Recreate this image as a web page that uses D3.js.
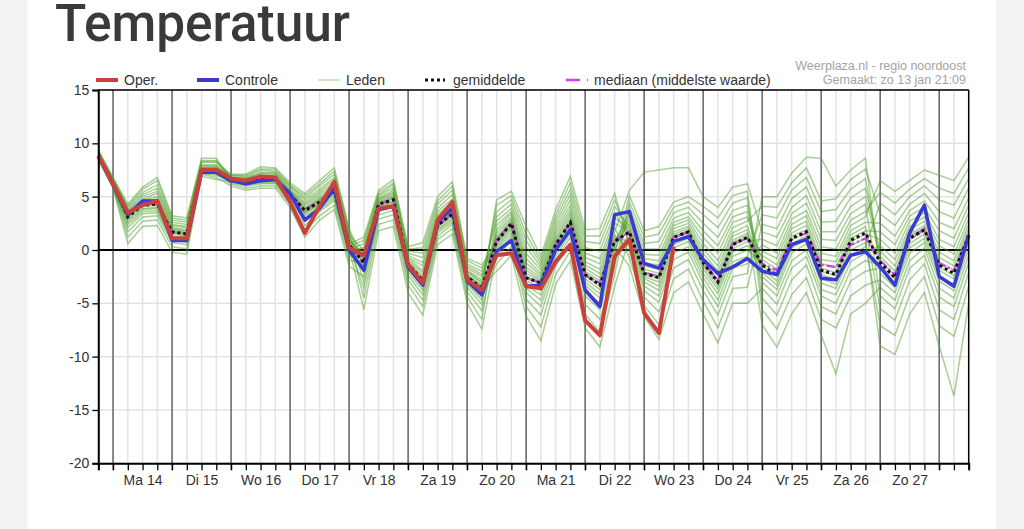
<!DOCTYPE html>
<html>
<head>
<meta charset="utf-8">
<script src="https://cdn.jsdelivr.net/npm/d3@7/dist/d3.min.js"></script>
<style>
  body { margin: 0; background: #f3f3f3; }
  svg { display: block; }
  text { font-family: "Liberation Sans", Arial, sans-serif; }
</style>
</head>
<body>
<svg id="chart" width="1024" height="529"></svg>
<script>
// labels
var dayLabels = ["Ma 14", "Di 15", "Wo 16", "Do 17", "Vr 18", "Za 19", "Zo 20",
  "Ma 21", "Di 22", "Wo 23", "Do 24", "Vr 25", "Za 26", "Zo 27"];
var yTicks = [15, 10, 5, 0, -5, -10, -15, -20];

// 6-hourly values, first step zo 13 jan 18:00
var oper = [8.8, 6.2, 3.5, 4.2, 4.6, 1.1, 1.1, 7.5, 7.5, 6.7, 6.5, 6.9, 6.8, 4.5, 1.6, 4.1, 6.4, 0.2, -0.5, 3.9,
  4.1, -1.4, -3.1, 2.8, 4.5, -2.8, -3.75, -0.5, -0.3, -3.4, -3.6, -1.1, 0.5, -6.6, -8.0, -0.6, 1.0, -5.9, -7.8, 0.3];

var controle = [8.8, 6.1, 3.3, 4.6, 4.6, 0.9, 0.9, 7.3, 7.3, 6.5, 6.2, 6.5, 6.6, 5.3, 2.8, 3.9, 5.8, 0.0, -1.9, 3.8,
  4.1, -1.6, -3.3, 2.65, 3.9, -2.9, -4.2, -0.15, 0.9, -3.4, -3.3, 0.0, 1.9, -3.75, -5.3, 3.3, 3.6, -1.25, -1.7, 0.8,
  1.25, -0.9, -2.2, -1.6, -0.8, -2.0, -2.3, 0.5, 1.0, -2.65, -2.8, -0.5, -0.15, -1.6, -3.3, 1.6, 4.2, -2.5, -3.4, 1.4];

var gemiddelde = [8.8, 6.2, 3.1, 4.2, 4.3, 1.7, 1.5, 7.5, 7.5, 6.6, 6.4, 6.6, 6.7, 5.2, 3.7, 4.5, 5.5, 0.5, -1.2, 4.3,
  4.7, -1.3, -2.9, 2.3, 3.4, -2.5, -3.6, 0.8, 2.5, -2.6, -3.1, 0.5, 2.6, -2.3, -3.3, 0.8, 1.7, -2.2, -2.6, 1.2,
  1.7, -1.2, -3.0, 0.5, 1.2, -1.4, -2.4, 1.1, 1.7, -1.9, -2.3, 0.9, 1.6, -1.2, -2.6, 1.1, 1.9, -1.4, -2.2, 1.4];

var mediaan = [8.8, 6.2, 3.2, 4.3, 4.4, 1.7, 1.5, 7.5, 7.5, 6.6, 6.4, 6.7, 6.7, 5.2, 3.8, 4.5, 5.6, 0.5, -1.2, 4.3,
  4.8, -1.3, -2.9, 2.3, 3.4, -2.5, -3.6, 0.9, 2.6, -2.6, -3.1, 0.5, 2.6, -2.4, -3.1, 0.8, 1.7, -2.1, -2.5, 1.2,
  1.7, -1.1, -2.9, 0.6, 1.1, -1.3, -1.9, 1.0, 1.6, -1.4, -1.6, 0.5, 1.1, -1.0, -2.3, 1.0, 2.0, -1.25, -1.9, 1.3];

// ensemble members: one row per time step, one column per member
var leden = [
  [8.5, 8.6, 8.6, 8.7, 8.7, 8.7, 8.8, 8.8, 8.8, 8.8, 8.8, 8.9, 8.9, 9.0, 9.0, 9.1, 9.2, 9.2, 9.3, 9.4],
  [5.8, 5.9, 6.0, 6.0, 6.1, 6.1, 6.1, 6.2, 6.2, 6.2, 6.2, 6.3, 6.3, 6.4, 6.4, 6.5, 6.6, 6.6, 6.7, 6.8],
  [0.6, 1.2, 1.7, 2.1, 2.4, 2.6, 2.8, 2.9, 3.1, 3.1, 3.2, 3.3, 3.4, 3.4, 3.6, 3.7, 3.8, 4.0, 4.1, 4.3],
  [2.2, 2.7, 3.1, 3.4, 3.6, 3.8, 3.9, 4.1, 4.2, 4.3, 4.3, 4.4, 4.6, 4.7, 4.8, 5.0, 5.2, 5.4, 5.7, 5.9],
  [2.3, 2.8, 3.2, 3.5, 3.7, 3.9, 4.0, 4.2, 4.3, 4.4, 4.5, 4.7, 4.8, 5.0, 5.3, 5.5, 5.8, 6.1, 6.5, 6.8],
  [-0.2, 0.3, 0.7, 0.9, 1.1, 1.3, 1.5, 1.6, 1.7, 1.7, 1.8, 1.9, 2.0, 2.1, 2.3, 2.4, 2.6, 2.8, 3.0, 3.2],
  [-0.4, 0.1, 0.5, 0.7, 0.9, 1.1, 1.3, 1.4, 1.5, 1.5, 1.6, 1.7, 1.8, 1.9, 2.1, 2.2, 2.4, 2.6, 2.8, 3.0],
  [6.9, 7.1, 7.2, 7.3, 7.3, 7.4, 7.4, 7.5, 7.5, 7.5, 7.6, 7.7, 7.7, 7.8, 7.9, 8.0, 8.2, 8.3, 8.4, 8.6],
  [6.6, 6.8, 7.0, 7.1, 7.2, 7.3, 7.4, 7.4, 7.5, 7.5, 7.6, 7.7, 7.7, 7.8, 7.9, 8.0, 8.2, 8.3, 8.4, 8.6],
  [6.4, 6.0, 6.5, 6.2, 6.6, 6.3, 6.7, 6.4, 6.7, 6.6, 6.8, 6.6, 7.0, 6.6, 7.0, 6.7, 7.1, 6.8, 6.9, 6.5],
  [6.1, 5.6, 6.3, 5.8, 6.4, 6.0, 6.5, 6.2, 6.6, 6.3, 6.7, 6.4, 6.9, 6.5, 7.0, 6.5, 7.1, 6.7, 6.8, 6.2],
  [6.3, 5.8, 6.5, 6.0, 6.6, 6.2, 6.8, 6.4, 6.9, 6.5, 7.2, 6.6, 7.5, 6.7, 7.6, 6.9, 7.8, 7.1, 7.3, 6.4],
  [6.3, 5.8, 6.6, 6.0, 6.7, 6.2, 6.8, 6.4, 7.0, 6.6, 7.2, 6.7, 7.4, 6.8, 7.6, 6.9, 7.7, 7.1, 7.3, 6.5],
  [4.7, 4.0, 5.0, 4.3, 5.2, 4.5, 5.4, 4.9, 5.5, 5.1, 5.7, 5.2, 6.0, 5.3, 6.1, 5.4, 6.3, 5.6, 5.9, 5.0],
  [2.7, 1.2, 3.4, 1.8, 3.7, 2.3, 3.9, 3.0, 4.2, 3.5, 4.5, 3.6, 4.9, 3.8, 5.1, 4.0, 5.3, 4.3, 4.7, 3.2],
  [3.8, 2.8, 4.3, 3.2, 4.6, 3.6, 4.8, 4.0, 5.1, 4.4, 5.5, 4.5, 6.0, 4.7, 6.2, 4.9, 6.5, 5.3, 5.7, 4.2],
  [4.8, 3.8, 5.3, 4.2, 5.6, 4.6, 5.8, 5.0, 6.1, 5.4, 6.6, 5.5, 7.1, 5.7, 7.4, 6.0, 7.7, 6.3, 6.8, 5.2],
  [-0.3, -1.5, 0.2, -1.0, 0.5, -0.6, 0.7, -0.1, 0.9, 0.4, 1.2, 0.5, 1.6, 0.6, 1.8, 0.8, 2.0, 1.1, 1.4, 0.1],
  [-1.5, -2.5, -5.6, -1.0, -3.6, -0.5, -2.1, 0.2, -4.5, 0.9, -1.3, -0.7, -3.0, 1.2, -1.8, -0.3, -1.1, -0.9, 0.0, 0.6],
  [4.1, 3.6, 1.8, 4.4, 2.9, 4.7, 3.8, 5.1, 2.4, 5.4, 4.2, 4.6, 3.3, 5.6, 4.0, 4.8, 4.3, 4.5, 4.9, 5.2],
  [4.5, 4.0, 2.2, 4.9, 3.3, 5.3, 4.2, 5.8, 2.8, 6.3, 4.6, 5.1, 3.7, 6.6, 4.4, 5.4, 4.8, 5.0, 5.6, 6.1],
  [-1.5, -2.1, -4.0, -1.2, -2.8, -0.8, -1.8, -0.3, -3.3, 0.1, -1.4, -1.0, -2.4, 0.3, -1.7, -0.7, -1.3, -1.1, -0.5, -0.1],
  [-3.1, -3.8, -6.1, -2.6, -4.7, -1.9, -3.5, -0.7, -5.3, 0.2, -3.0, -2.1, -4.2, 0.7, -3.3, -1.5, -2.8, -2.4, -1.2, -0.3],
  [2.2, 1.8, 0.5, 2.5, 1.3, 3.1, 1.9, 3.9, 1.0, 4.6, 2.3, 2.9, 1.6, 5.0, 2.1, 3.3, 2.4, 2.7, 3.6, 4.3],
  [3.3, 2.8, 1.5, 3.6, 2.4, 4.3, 3.0, 5.2, 2.0, 6.0, 3.4, 4.0, 2.6, 6.4, 3.2, 4.5, 3.5, 3.8, 4.8, 5.6],
  [-2.7, -3.2, -5.0, -2.4, -3.9, -2.0, -3.0, -1.5, -4.4, -1.0, -2.6, -2.1, -3.5, -0.8, -2.8, -1.9, -2.4, -2.3, -1.7, -1.3],
  [-3.9, -4.7, -7.4, -3.4, -5.7, -3.0, -4.4, -2.3, -6.5, -1.7, -3.7, -3.1, -5.1, -1.4, -4.1, -2.8, -3.5, -3.3, -2.5, -2.0],
  [1.6, 0.9, -0.3, -2.0, 0.4, 3.6, -1.3, 1.3, 2.3, 0.2, 4.7, -0.7, 3.1, 0.6, 1.9, 0.0, 4.2, 0.7, 1.1, 2.7],
  [3.1, 2.6, 1.3, -0.5, 2.1, 4.7, 0.3, 2.9, 3.6, 1.9, 5.5, 0.9, 4.3, 2.3, 3.4, 1.6, 5.1, 2.4, 2.7, 3.9],
  [-1.6, -2.5, -4.0, -6.2, -3.1, 0.9, -5.3, -1.9, -0.8, -3.3, 2.2, -4.6, 0.3, -2.9, -1.2, -3.6, 1.5, -2.7, -2.2, -0.3],
  [-2.6, -3.0, -5.3, -8.5, -3.8, -1.3, -7.2, -2.8, -2.2, -4.2, -0.6, -6.1, -1.6, -3.5, -2.4, -4.7, -1.0, -3.2, -2.9, -1.9],
  [1.2, 0.6, -1.0, -3.2, 0.0, 2.9, -2.3, 1.0, 1.8, -0.2, 3.8, -1.5, 2.5, 0.2, 1.5, -0.6, 3.3, 0.4, 0.8, 2.1],
  [3.5, 2.7, 1.2, -1.0, 2.1, 5.7, -0.1, 3.2, 4.2, 1.9, 6.9, 0.6, 5.2, 2.3, 3.8, 1.6, 6.3, 2.5, 2.9, 4.7],
  [-1.4, -2.2, -4.3, -7.3, -3.0, 0.8, -6.0, -1.7, -0.7, -3.3, 1.9, -5.1, 0.2, -2.7, -1.1, -3.8, 1.3, -2.4, -2.0, -0.3],
  [-2.2, -3.1, -5.6, -9.1, -4.1, 0.6, -7.7, -2.6, -1.3, -4.5, 2.0, -6.5, -0.1, -3.7, -1.8, -5.0, 1.3, -3.4, -2.9, -0.8],
  [1.7, 0.9, -0.9, -3.4, 0.3, 4.1, -2.3, 1.4, 2.5, 0.0, 5.3, -1.5, 3.5, 0.5, 2.1, -0.4, 4.7, 0.7, 1.2, 3.0],
  [5.6, 2.8, 1.6, 1.1, -1.5, 2.2, 4.0, -0.1, 1.8, 3.2, 0.4, 4.5, 1.3, 2.5, -0.7, 5.1, 1.5, 3.6, 0.8, 2.0],
  [7.3, -0.8, -2.3, -3.0, -6.2, -1.5, 0.6, -4.4, -2.1, -0.4, -3.8, 1.2, -2.7, -1.2, -5.2, 1.8, -2.5, 0.1, -3.4, -1.8],
  [7.5, -1.0, -2.7, -3.8, -8.4, -1.8, 0.8, -5.8, -2.4, -0.5, -4.9, 1.5, -3.4, -1.4, -7.0, 2.2, -3.0, 0.1, -4.3, -2.2],
  [7.7, 2.3, 1.1, 0.2, -4.0, 1.7, 3.5, -1.7, 1.3, 2.6, -0.9, 4.0, 0.5, 2.0, -2.7, 4.5, 0.8, 3.0, -0.3, 1.5],
  [7.7, 2.8, 1.6, 0.8, -3.0, 2.2, 4.0, -0.9, 1.8, 3.1, -0.2, 4.5, 1.1, 2.5, -1.8, 5.0, 1.4, 3.5, 0.3, 2.0],
  [5.0, 0.6, -1.3, -2.2, -6.0, -0.3, 2.5, -3.8, -1.0, 1.2, -3.1, 3.3, -1.8, 0.1, -4.8, 4.1, -1.5, 1.8, -2.6, -0.7],
  [4.0, -1.0, -3.1, -4.1, -8.7, -2.0, 1.2, -6.1, -2.8, -0.3, -5.3, 2.1, -3.7, -1.5, -7.3, 3.0, -3.4, 0.4, -4.7, -2.4],
  [5.9, 2.1, 0.4, -0.6, -5.0, 1.3, 3.7, -2.5, 0.7, 2.6, -1.7, 4.4, -0.2, 1.6, -3.6, 5.1, 0.1, 3.1, -1.1, 0.9],
  [6.2, 2.7, 1.1, 0.0, -5.0, 1.9, 4.2, -2.2, 1.4, 3.1, -1.3, 4.9, 0.4, 2.3, -3.5, 5.5, 0.8, 3.6, -0.6, 1.6],
  [1.7, 4.1, -0.1, -1.2, -3.6, -7.0, -1.8, 5.0, -3.0, -0.9, 0.5, -5.6, -0.5, -2.1, 2.4, -4.5, 1.0, -2.5, 3.3, -1.5],
  [1.2, 4.0, -0.8, -2.2, -5.1, -9.1, -2.9, 5.0, -4.3, -1.8, -0.3, -7.4, -1.4, -3.3, 2.0, -6.1, 0.4, -3.7, 3.0, -2.5],
  [4.0, 6.3, 2.4, 1.3, -1.7, -6.0, 0.6, 7.2, -1.0, 1.6, 2.9, -4.2, 2.0, 0.2, 4.8, -2.8, 3.4, -0.3, 5.6, 1.0],
  [5.1, 7.7, 3.2, 1.9, -0.6, -4.0, 1.3, 8.7, 0.0, 2.3, 3.7, -2.6, 2.7, 1.0, 5.9, -1.4, 4.4, 0.6, 6.8, 1.6],
  [1.7, 4.6, -0.3, -1.7, -4.3, -8.0, -2.3, 8.6, -3.7, -1.3, 0.3, -6.5, -0.9, -2.7, 2.6, -5.3, 1.0, -3.1, 3.6, -2.0],
  [1.7, 4.8, -0.6, -2.1, -5.0, -11.6, -2.8, 6.0, -4.2, -1.6, 0.1, -7.3, -1.1, -3.2, 2.7, -6.0, 0.9, -3.6, 3.8, -2.4],
  [4.1, 6.6, 2.3, 1.1, -1.9, -6.0, 0.4, 7.5, -1.1, 1.4, 2.8, -4.3, 1.8, 0.0, 4.9, -2.9, 3.4, -0.5, 5.7, 0.8],
  [5.0, 7.6, 3.1, 1.8, -1.0, -5.0, 1.1, 8.6, -0.3, 2.2, 3.6, -3.3, 2.6, 0.7, 5.8, -2.0, 4.3, 0.3, 6.7, 1.5],
  [-0.6, 3.4, 6.5, 1.7, -1.4, -3.5, -9.0, -2.2, 0.4, -5.5, 5.4, -2.8, 2.5, -7.1, -0.1, -1.7, -4.3, 4.4, -1.0, 1.0],
  [-2.0, 2.3, 5.5, 0.5, -2.7, -4.7, -9.8, -3.5, -0.9, -6.6, 4.4, -4.0, 1.3, -8.0, -1.5, -3.1, -5.5, 3.3, -2.4, -0.3],
  [1.5, 4.3, 6.5, 3.2, 1.0, -1.0, -6.0, 0.2, 2.2, -2.8, 5.7, -0.3, 3.7, -4.2, 1.9, 0.6, -1.7, 5.0, 1.3, 2.7],
  [2.3, 5.3, 7.5, 4.0, 1.8, 0.2, -4.0, 1.1, 3.1, -1.3, 6.7, 0.7, 4.6, -2.5, 2.7, 1.5, -0.5, 6.0, 2.1, 3.5],
  [-0.7, 3.6, 7.0, 1.8, -1.6, -3.6, -9.0, -2.4, 0.4, -5.6, 5.8, -2.9, 2.6, -7.1, -0.2, -1.9, -4.4, 4.7, -1.1, 1.0],
  [-1.5, 3.0, 6.5, 1.1, -2.4, -4.5, -13.7, -3.2, -0.4, -6.5, 5.3, -3.8, 2.0, -8.1, -1.0, -2.7, -5.3, 4.2, -1.9, 0.3],
  [2.0, 5.8, 8.7, 4.2, 1.3, -0.5, -5.0, 0.6, 2.9, -2.1, 7.7, 0.1, 4.9, -3.4, 2.4, 1.0, -1.2, 6.7, 1.6, 3.5]
];

(function () {
  var start = new Date(Date.UTC(2019, 0, 13, 18));
  var end = new Date(Date.UTC(2019, 0, 28, 12));
  var times = leden.map(function (row, i) { return d3.utcHour.offset(start, 6 * i); });

  var svg = d3.select("#chart");
  var plotLeft = 98.3, plotRight = 968.7, plotTop = 90, plotBottom = 463.3;

  var x = d3.scaleUtc().domain([start, end]).range([plotLeft, plotRight]);
  var y = d3.scaleLinear().domain([-20, 15]).range([plotBottom, plotTop]);

  // white page panel
  svg.append("rect").attr("x", 27).attr("y", 0).attr("width", 969).attr("height", 529).attr("fill", "#fff");

  // title
  var title = svg.append("text")
    .attr("x", 55).attr("y", 41)
    .style("font-family", "Roboto, sans-serif")
    .style("font-weight", 500)
    .style("font-size", "50px")
    .attr("fill", "#3a3a3a")
    .text("Temperatuur");
  var tl = title.node().getComputedTextLength();
  title.style("font-size", (50 * 295 / tl) + "px");

  // credits
  svg.append("text").attr("x", 966).attr("y", 70).attr("text-anchor", "end")
    .attr("fill", "#a3a3a3").style("font-size", "12.5px").text("Weerplaza.nl - regio noordoost");
  svg.append("text").attr("x", 966).attr("y", 84).attr("text-anchor", "end")
    .attr("fill", "#a3a3a3").style("font-size", "12.5px").text("Gemaakt: zo 13 jan 21:09");

  // grid
  var sixHours = d3.utcHour.every(6).range(start, d3.utcHour.offset(end, 1));
  var days = d3.utcDay.range(start, end);

  svg.append("g").selectAll("line").data(yTicks).join("line")
    .attr("x1", plotLeft).attr("x2", plotRight)
    .attr("y1", function (d) { return y(d); }).attr("y2", function (d) { return y(d); })
    .attr("stroke", "#e3e3e3").attr("stroke-width", 1.5);

  svg.append("g").selectAll("line").data(sixHours).join("line")
    .attr("x1", function (d) { return x(d); }).attr("x2", function (d) { return x(d); })
    .attr("y1", plotTop).attr("y2", plotBottom)
    .attr("stroke", "#e3e3e3").attr("stroke-width", 1.5);

  svg.append("g").selectAll("line").data(days).join("line")
    .attr("x1", function (d) { return x(d); }).attr("x2", function (d) { return x(d); })
    .attr("y1", plotTop).attr("y2", plotBottom + 7)
    .attr("stroke", "#5e5e5e").attr("stroke-width", 1.4);

  // lines
  var line = d3.line()
    .x(function (d, i) { return x(times[i]); })
    .y(function (d) { return y(d); });

  var plot = svg.append("g");

  var members = d3.range(leden[0].length).map(function (k) {
    return leden.map(function (row) { return row[k]; });
  });

  plot.selectAll("path.lid").data(members).join("path")
    .attr("class", "lid")
    .attr("d", line)
    .attr("fill", "none")
    .attr("stroke", "#52a02e")
    .attr("stroke-opacity", 0.5)
    .attr("stroke-width", 1.5);

  // zero line
  svg.append("line").attr("x1", plotLeft).attr("x2", plotRight).attr("y1", y(0)).attr("y2", y(0))
    .attr("stroke", "#000").attr("stroke-width", 2.2);

  plot.raise();
  plot.append("path").attr("d", line(mediaan))
    .attr("fill", "none").attr("stroke", "#d23cf2").attr("stroke-width", 2.2)
    .attr("stroke-dasharray", "8,3,2,3");

  plot.append("path").attr("d", line(gemiddelde))
    .attr("fill", "none").attr("stroke", "#111").attr("stroke-width", 3)
    .attr("stroke-dasharray", "3,3");

  plot.append("path").attr("d", line(controle))
    .attr("fill", "none").attr("stroke", "#3a3ad2").attr("stroke-width", 3.5)
    .attr("stroke-linejoin", "round");

  plot.append("path").attr("d", line(oper))
    .attr("fill", "none").attr("stroke", "#c9413a").attr("stroke-width", 4)
    .attr("stroke-linejoin", "round");

  // frame
  svg.append("line").attr("x1", plotLeft).attr("x2", plotRight).attr("y1", plotTop).attr("y2", plotTop)
    .attr("stroke", "#000").attr("stroke-width", 1.5);
  svg.append("line").attr("x1", plotRight).attr("x2", plotRight).attr("y1", plotTop).attr("y2", plotBottom)
    .attr("stroke", "#000").attr("stroke-width", 1.5);

  // axes
  var yAxis = svg.append("g")
    .attr("transform", "translate(" + plotLeft + ",0)")
    .call(d3.axisLeft(y).tickValues(yTicks).tickSize(6).tickPadding(3)
      .tickFormat(function (d) { return String(d); }));
  var xAxis = svg.append("g")
    .attr("transform", "translate(0," + plotBottom + ")")
    .call(d3.axisBottom(x).tickValues(sixHours).tickSize(7).tickFormat(""));
  [yAxis, xAxis].forEach(function (g) {
    g.select(".domain").attr("stroke", "#000").attr("stroke-width", 2);
    g.selectAll(".tick line").attr("stroke", "#000").attr("stroke-width", 1.3);
    g.selectAll("text").attr("fill", "#333").style("font-size", "14px")
      .style("font-family", "'Liberation Sans', Arial, sans-serif");
  });

  var noons = days.map(function (d) { return d3.utcHour.offset(d, 12); });
  svg.append("g")
    .attr("transform", "translate(0," + plotBottom + ")")
    .call(d3.axisBottom(x).tickValues(noons).tickSize(0).tickPadding(12)
      .tickFormat(function (d, i) { return dayLabels[i]; }))
    .call(function (g) {
      g.select(".domain").remove();
      g.selectAll("text").attr("fill", "#333").style("font-size", "14px")
        .style("font-family", "'Liberation Sans', Arial, sans-serif");
    });

  // legend
  var legend = svg.append("g").attr("transform", "translate(0,80)");
  var items = [
    { label: "Oper.", x: 96, color: "#c9413a", width: 4, dash: null, op: 1 },
    { label: "Controle", x: 197, color: "#3a3ad2", width: 4, dash: null, op: 1 },
    { label: "Leden", x: 318, color: "#52a02e", width: 1.2, dash: null, op: 0.45 },
    { label: "gemiddelde", x: 425, color: "#111", width: 3, dash: "3,3", op: 1, len: 20 },
    { label: "mediaan (middelste waarde)", x: 566, color: "#d23cf2", width: 2.5, dash: "14,7,2,7", op: 1 }
  ];
  items.forEach(function (d) {
    legend.append("line").attr("x1", d.x).attr("x2", d.x + (d.len || 22)).attr("y1", 0).attr("y2", 0)
      .attr("stroke", d.color).attr("stroke-width", d.width).attr("stroke-opacity", d.op)
      .attr("stroke-dasharray", d.dash);
    legend.append("text").attr("x", d.x + 28).attr("y", 5).attr("fill", "#333")
      .style("font-size", "14px").text(d.label);
  });
})();
</script>
</body>
</html>
